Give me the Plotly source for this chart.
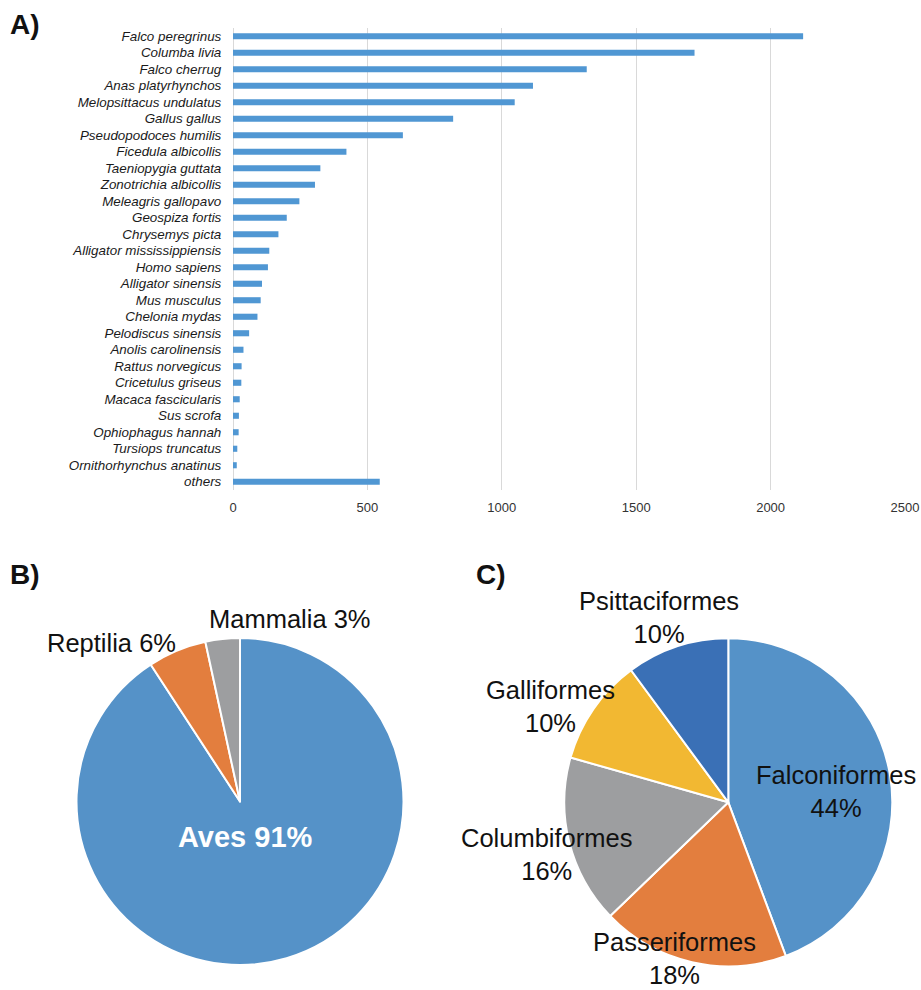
import plotly.graph_objects as go

W, H = 921, 990

# ---------- Data ----------
species = [
    "Falco peregrinus", "Columba livia", "Falco cherrug", "Anas platyrhynchos",
    "Melopsittacus undulatus", "Gallus gallus", "Pseudopodoces humilis",
    "Ficedula albicollis", "Taeniopygia guttata", "Zonotrichia albicollis",
    "Meleagris gallopavo", "Geospiza fortis", "Chrysemys picta",
    "Alligator mississippiensis", "Homo sapiens", "Alligator sinensis",
    "Mus musculus", "Chelonia mydas", "Pelodiscus sinensis", "Anolis carolinensis",
    "Rattus norvegicus", "Cricetulus griseus", "Macaca fascicularis", "Sus scrofa",
    "Ophiophagus hannah", "Tursiops truncatus", "Ornithorhynchus anatinus", "others",
]
counts = [2121, 1717, 1316, 1116, 1048, 819, 632, 422, 325, 305, 247, 200, 169,
          135, 130, 108, 103, 91, 60, 39, 32, 31, 25, 22, 21, 16, 14, 546]
x_ticks = [0, 500, 1000, 1500, 2000, 2500]

class_labels = ["Aves", "Reptilia", "Mammalia"]
class_values = [90.8, 5.8, 3.4]
class_text = ["Aves 91%", "Reptilia 6%", "Mammalia 3%"]
class_colors = ["#5592c8", "#e37e3e", "#9d9ea0"]

order_labels = ["Falconiformes", "Passeriformes", "Columbiformes", "Galliformes", "Psittaciformes"]
order_values = [44.3, 18.5, 16.6, 10.5, 10.1]
order_pct = ["44%", "18%", "16%", "10%", "10%"]
order_colors = ["#5592c8", "#e37e3e", "#9d9ea0", "#f2b832", "#3a70b6"]

FONT = "Liberation Sans, Arial, sans-serif"

def px(x):
    return x / W

def py(y):
    return 1 - y / H

fig = go.Figure()

# ---------- A) bar chart ----------
fig.add_trace(go.Bar(
    x=counts, y=species, orientation="h",
    marker=dict(color="#5097d3", line=dict(width=0)),
    xaxis="x", yaxis="y", showlegend=False,
))

# ---------- B) pie ----------
cx, cy, r = 240, 801.5, 163.5
fig.add_trace(go.Pie(
    labels=class_labels, values=class_values, sort=False, direction="clockwise",
    rotation=0, textinfo="none", hoverinfo="label+percent",
    marker=dict(colors=class_colors, line=dict(color="white", width=2)),
    domain=dict(x=[px(cx - r), px(cx + r)], y=[py(cy + r), py(cy - r)]),
    showlegend=False,
))

# ---------- C) pie ----------
cx2, cy2, r2 = 728.3, 802.3, 164
fig.add_trace(go.Pie(
    labels=order_labels, values=order_values, sort=False, direction="clockwise",
    rotation=0, textinfo="none", hoverinfo="label+percent",
    marker=dict(colors=order_colors, line=dict(color="white", width=2)),
    domain=dict(x=[px(cx2 - r2), px(cx2 + r2)], y=[py(cy2 + r2), py(cy2 - r2)]),
    showlegend=False,
))

annotations = []

def add_text(text, x, y, size=25.5, color="#111111", bold=False, yanchor="middle"):
    annotations.append(dict(
        text=f"<b>{text}</b>" if bold else text,
        x=px(x), y=py(y), xref="paper", yref="paper",
        xanchor="center", yanchor=yanchor, showarrow=False, borderpad=0,
        font=dict(family=FONT, size=size, color=color),
    ))

# panel letters
def add_letter(text, x, y):
    annotations.append(dict(
        text=f"<b>{text}</b>", x=px(x), y=py(y), xref="paper", yref="paper",
        xanchor="left", yanchor="middle", showarrow=False,
        font=dict(family=FONT, size=28, color="#111111"),
    ))

add_letter("A)", 8, 24)
add_letter("B)", 8, 574)
add_letter("C)", 474, 574)

# B labels
add_text(class_text[2], 289.6, 619)
add_text(class_text[1], 111, 643)
add_text(class_text[0], 245, 837, size=29, color="white", bold=True)

# C labels
c_pos = {
    "Falconiformes": (835.5, 791),
    "Columbiformes": (546.7, 854.5),
    "Galliformes": (550.5, 706),
    "Psittaciformes": (658.7, 617.5),
}
for lab, pct in zip(order_labels, order_pct):
    if lab == "Passeriformes":
        # anchored to the bottom edge so the label stays fully inside the figure
        add_text(f"{lab}<br>{pct}", 674.2, H - 0.5, yanchor="bottom")
        continue
    x, y = c_pos[lab]
    add_text(f"{lab}<br>{pct}", x, y)

fig.update_layout(
    width=W, height=H,
    margin=dict(l=0, r=0, t=0, b=0, autoexpand=False),
    paper_bgcolor="white", plot_bgcolor="white",
    bargap=0.63,
    font=dict(family=FONT, color="#111111"),
    xaxis=dict(
        domain=[px(233), px(905)], anchor="y", automargin=False,
        range=[0, 2500], tickvals=x_ticks,
        showgrid=True, gridcolor="#d9d9d9", gridwidth=1.2,
        zeroline=True, zerolinecolor="#d9d9d9", zerolinewidth=1.2,
        showline=False, ticks="outside", ticklen=5, tickcolor="rgba(0,0,0,0)",
        tickfont=dict(family=FONT, size=13, color="#333333"),
        fixedrange=True,
    ),
    yaxis=dict(
        domain=[py(490), py(28)], anchor="x", automargin=False,
        autorange="reversed", type="category",
        showgrid=False, zeroline=False, showline=False,
        ticks="outside", ticklen=8, tickcolor="rgba(0,0,0,0)",
        tickfont=dict(family=FONT, size=13.4, color="#1a1a1a", style="italic"),
        fixedrange=True,
    ),
    annotations=annotations,
)

fig.write_html("out.html")
